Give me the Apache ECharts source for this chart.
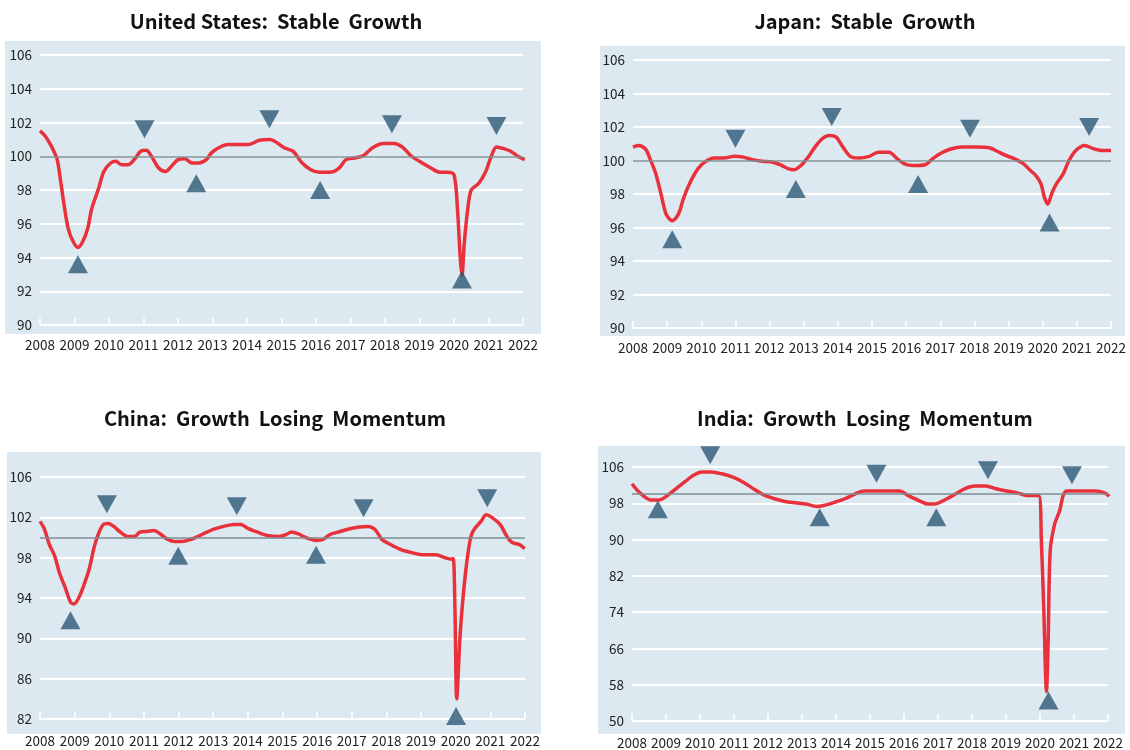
<!DOCTYPE html>
<html>
<head>
<meta charset="utf-8">
<script src="https://cdn.jsdelivr.net/npm/echarts@6/dist/echarts.min.js"></script>
<style>
  html, body { margin: 0; padding: 0; background: #fff; }
  #chart { width: 1130px; height: 750px; }
</style>
</head>
<body>
<div id="chart"></div>
<script>
const years = [2008, 2009, 2010, 2011, 2012, 2013, 2014, 2015, 2016, 2017, 2018, 2019, 2020, 2021, 2022]

const usTicks = [90, 92, 94, 96, 98, 100, 102, 104, 106]
const jpTicks = [90, 92, 94, 96, 98, 100, 102, 104, 106]
const cnTicks = [82, 86, 90, 94, 98, 102, 106]
const inTicks = [50, 58, 66, 74, 82, 90, 98, 106]

const titles = [
  'United States:  Stable  Growth',
  'Japan:  Stable  Growth',
  'China:  Growth  Losing  Momentum',
  'India:  Growth  Losing  Momentum'
]

// [year, index]
const usLine = [
  [2008.0, 101.5], [2008.15, 101.2], [2008.3, 100.7], [2008.4, 100.3], [2008.5, 99.8], [2008.6, 98.5],
  [2008.7, 97.1], [2008.82, 95.7], [2008.97, 94.9], [2009.1, 94.6], [2009.23, 94.9], [2009.38, 95.7],
  [2009.5, 96.9], [2009.7, 98.1], [2009.85, 99.1], [2010.05, 99.6], [2010.2, 99.7], [2010.36, 99.5],
  [2010.56, 99.5], [2010.77, 99.9], [2010.92, 100.3], [2011.08, 100.35], [2011.23, 100.0], [2011.44, 99.3],
  [2011.64, 99.1], [2011.85, 99.5], [2012.0, 99.8], [2012.2, 99.85], [2012.4, 99.6], [2012.6, 99.6],
  [2012.82, 99.8], [2012.97, 100.2], [2013.18, 100.5], [2013.44, 100.7], [2013.74, 100.7], [2014.05, 100.7],
  [2014.36, 100.95], [2014.67, 101.0], [2014.87, 100.8], [2015.08, 100.5], [2015.33, 100.3], [2015.6, 99.6],
  [2015.85, 99.2], [2016.1, 99.05], [2016.4, 99.05], [2016.67, 99.3], [2016.87, 99.8], [2017.13, 99.9],
  [2017.38, 100.05], [2017.64, 100.5], [2017.95, 100.75], [2018.26, 100.75], [2018.5, 100.55], [2018.77, 100.0],
  [2019.08, 99.6], [2019.33, 99.3], [2019.6, 99.05], [2019.8, 99.05], [2020.0, 98.9], [2020.1, 96.9],
  [2020.18, 94.0], [2020.23, 92.9], [2020.3, 94.9], [2020.4, 96.9], [2020.5, 98.0], [2020.72, 98.4],
  [2020.92, 99.1], [2021.08, 100.0], [2021.23, 100.55], [2021.44, 100.45], [2021.64, 100.3], [2021.85, 100.0],
  [2022.05, 99.8]
]
const usPeaks = [[2011.03, 101.6], [2014.65, 102.2], [2018.2, 101.9], [2021.23, 101.8]]
const usTroughs = [[2009.1, 93.6], [2012.53, 98.4], [2016.12, 98.0], [2020.23, 92.7]]

const jpLine = [
  [2008.0, 100.8], [2008.15, 100.9], [2008.36, 100.7], [2008.5, 100.1], [2008.67, 99.2], [2008.82, 98.0],
  [2008.97, 96.8], [2009.15, 96.4], [2009.33, 96.8], [2009.49, 97.8], [2009.7, 98.8], [2009.9, 99.5],
  [2010.1, 99.9], [2010.36, 100.15], [2010.67, 100.15], [2010.97, 100.25], [2011.23, 100.2], [2011.5, 100.05],
  [2011.8, 99.95], [2012.1, 99.9], [2012.36, 99.7], [2012.56, 99.5], [2012.72, 99.45], [2012.92, 99.7],
  [2013.13, 100.2], [2013.33, 100.8], [2013.54, 101.3], [2013.74, 101.5], [2013.95, 101.4], [2014.15, 100.8],
  [2014.36, 100.25], [2014.6, 100.15], [2014.92, 100.25], [2015.18, 100.5], [2015.5, 100.5], [2015.74, 100.1],
  [2015.95, 99.8], [2016.2, 99.7], [2016.56, 99.75], [2016.77, 100.1], [2017.03, 100.45], [2017.33, 100.7],
  [2017.64, 100.8], [2018.05, 100.8], [2018.46, 100.75], [2018.67, 100.55], [2018.92, 100.3], [2019.18, 100.1],
  [2019.44, 99.8], [2019.64, 99.4], [2019.8, 99.1], [2019.95, 98.6], [2020.05, 97.8], [2020.15, 97.4],
  [2020.26, 98.0], [2020.4, 98.6], [2020.6, 99.2], [2020.77, 100.0], [2020.97, 100.6], [2021.23, 100.9],
  [2021.49, 100.7], [2021.74, 100.6], [2022.0, 100.6]
]
const jpPeaks = [[2011.0, 101.3], [2013.82, 102.6], [2017.87, 101.9], [2021.36, 102.0]]
const jpTroughs = [[2009.15, 95.3], [2012.77, 98.3], [2016.35, 98.6], [2020.2, 96.3]]

const cnLine = [
  [2008.0, 101.6], [2008.12, 100.9], [2008.27, 99.3], [2008.42, 98.2], [2008.57, 96.4], [2008.72, 95.1],
  [2008.88, 93.6], [2008.98, 93.4], [2009.13, 94.1], [2009.28, 95.4], [2009.43, 97.0], [2009.56, 99.0],
  [2009.68, 100.3], [2009.83, 101.3], [2009.98, 101.4], [2010.13, 101.1], [2010.33, 100.5], [2010.53, 100.1],
  [2010.73, 100.1], [2010.89, 100.55], [2011.09, 100.6], [2011.29, 100.7], [2011.49, 100.3], [2011.69, 99.8],
  [2011.89, 99.6], [2012.1, 99.6], [2012.35, 99.8], [2012.55, 100.1], [2012.8, 100.5], [2013.0, 100.8],
  [2013.3, 101.1], [2013.6, 101.3], [2013.8, 101.3], [2014.0, 100.9], [2014.26, 100.55], [2014.56, 100.2],
  [2014.91, 100.1], [2015.11, 100.3], [2015.26, 100.55], [2015.46, 100.35], [2015.67, 100.0], [2015.97, 99.7],
  [2016.17, 99.8], [2016.37, 100.3], [2016.62, 100.55], [2016.92, 100.85], [2017.22, 101.05], [2017.47, 101.1],
  [2017.67, 100.8], [2017.87, 99.8], [2018.12, 99.3], [2018.42, 98.8], [2018.73, 98.5], [2019.03, 98.3],
  [2019.43, 98.3], [2019.68, 98.0], [2019.88, 97.85], [2019.93, 97.9], [2019.98, 92.5], [2020.03, 84.0],
  [2020.13, 90.5], [2020.28, 96.4], [2020.43, 100.0], [2020.53, 100.8], [2020.73, 101.6], [2020.88, 102.25],
  [2021.08, 101.9], [2021.28, 101.3], [2021.48, 100.1], [2021.63, 99.5], [2021.84, 99.3], [2021.99, 98.9]
]
const cnPeaks = [[2009.93, 103.3], [2013.68, 103.1], [2017.34, 102.9], [2020.91, 103.9]]
const cnTroughs = [[2008.88, 91.8], [2011.99, 98.2], [2015.97, 98.3], [2020.01, 82.3]]

const inLine = [
  [2008.0, 102.3], [2008.16, 100.8], [2008.36, 99.5], [2008.57, 98.7], [2008.78, 98.7], [2009.04, 99.7],
  [2009.29, 101.2], [2009.55, 102.7], [2009.81, 104.2], [2010.07, 104.9], [2010.33, 104.9], [2010.64, 104.5],
  [2010.95, 103.8], [2011.26, 102.7], [2011.57, 101.2], [2011.88, 99.85], [2012.19, 99.0], [2012.5, 98.4],
  [2012.81, 98.1], [2013.12, 97.85], [2013.43, 97.3], [2013.64, 97.5], [2013.95, 98.2], [2014.26, 99.0],
  [2014.57, 100.1], [2014.83, 100.7], [2015.19, 100.7], [2015.61, 100.7], [2015.87, 100.7], [2016.13, 99.7],
  [2016.44, 98.6], [2016.7, 97.85], [2016.9, 97.85], [2017.16, 98.6], [2017.47, 99.85], [2017.78, 101.2],
  [2018.09, 101.8], [2018.4, 101.8], [2018.71, 101.2], [2019.02, 100.7], [2019.33, 100.3], [2019.64, 99.7],
  [2019.96, 99.7], [2020.04, 89.7], [2020.11, 74.9], [2020.19, 56.5], [2020.24, 67.5], [2020.3, 87.5],
  [2020.43, 93.4], [2020.58, 96.4], [2020.68, 99.7], [2020.79, 100.7], [2021.2, 100.7], [2021.62, 100.7],
  [2021.93, 100.2], [2022.03, 99.5]
]
const inPeaks = [[2010.3, 108.6], [2015.19, 104.5], [2018.47, 105.3], [2020.94, 104.2]]
const inTroughs = [[2008.76, 96.7], [2013.52, 94.9], [2016.95, 94.9], [2020.25, 54.5]]

const panels = [
  { line: usLine, peaks: usPeaks, troughs: usTroughs, ticks: usTicks },
  { line: jpLine, peaks: jpPeaks, troughs: jpTroughs, ticks: jpTicks },
  { line: cnLine, peaks: cnPeaks, troughs: cnTroughs, ticks: cnTicks },
  { line: inLine, peaks: inPeaks, troughs: inTroughs, ticks: inTicks }
]

const grids = [
  { left: 40, top: 55, width: 483, height: 270 },
  { left: 633, top: 60, width: 478, height: 268 },
  { left: 40, top: 477, width: 485, height: 242 },
  { left: 632, top: 467, width: 476, height: 254 }
]
const boxes = [
  { x: 5, y: 41, width: 536, height: 293 },
  { x: 600, y: 46, width: 525, height: 290 },
  { x: 7, y: 452, width: 534, height: 282 },
  { x: 598, y: 446, width: 527, height: 288 }
]
const titlePos = [[276, 21], [865, 21], [275, 418], [865, 418]]

const font = '"Noto Sans CJK KR", "Noto Sans", sans-serif'
const markerColor = '#2d5777'

const chart = echarts.init(document.getElementById('chart'))

const graphic = []
boxes.forEach(b => {
  graphic.push({ type: 'rect', z: -10, shape: b, style: { fill: '#dde9f1' } })
})
titles.forEach((t, i) => {
  graphic.push({
    type: 'text', x: titlePos[i][0], y: titlePos[i][1],
    style: {
      text: t, fill: '#111', font: 'bold 20px ' + font,
      align: 'center', verticalAlign: 'middle', textAlign: 'center', textVerticalAlign: 'middle'
    }
  })
})

const xAxis = []
const yAxis = []
const series = []
panels.forEach((p, i) => {
  xAxis.push({
    type: 'value', gridIndex: i,
    min: years[0], max: years[years.length - 1], interval: 1,
    axisLine: { show: false },
    axisTick: { show: true, inside: true, length: 7, lineStyle: { color: '#fff', width: 1.5 } },
    splitLine: { show: false },
    axisLabel: {
      color: '#222', fontFamily: font, fontSize: 13.5, margin: i < 2 ? 13 : 15,
      formatter: v => String(v)
    }
  })
  const t = p.ticks
  yAxis.push({
    type: 'value', gridIndex: i,
    min: t[0], max: t[t.length - 1], interval: t[1] - t[0],
    axisLine: { show: false },
    axisTick: { show: false },
    splitLine: { lineStyle: { color: '#fff', width: 2 } },
    axisLabel: { color: '#222', fontFamily: font, fontSize: 13.5, margin: 8 }
  })
  series.push({
    type: 'line', xAxisIndex: i, yAxisIndex: i, data: [], z: 1,
    markLine: {
      silent: true, symbol: 'none', animation: false,
      label: { show: false },
      lineStyle: { color: '#7d8e93', width: 1.6, type: 'solid' },
      data: [{ yAxis: 100 }]
    }
  })
  series.push({
    type: 'line', xAxisIndex: i, yAxisIndex: i, data: p.line, z: 3,
    smooth: 0.3, showSymbol: false,
    lineStyle: { color: '#e8313b', width: 3.5 }
  })
  series.push({
    type: 'scatter', xAxisIndex: i, yAxisIndex: i, data: p.peaks, z: 4, clip: false,
    symbol: 'triangle', symbolRotate: 180, symbolSize: [20, 18],
    itemStyle: { color: markerColor }
  })
  series.push({
    type: 'scatter', xAxisIndex: i, yAxisIndex: i, data: p.troughs, z: 4, clip: false,
    symbol: 'triangle', symbolSize: [20, 18],
    itemStyle: { color: markerColor }
  })
})

chart.setOption({
  animation: false,
  backgroundColor: '#fff',
  graphic: graphic,
  grid: grids,
  xAxis: xAxis,
  yAxis: yAxis,
  series: series
})

window.addEventListener('resize', () => {
  chart.resize()
})
</script>
</body>
</html>
